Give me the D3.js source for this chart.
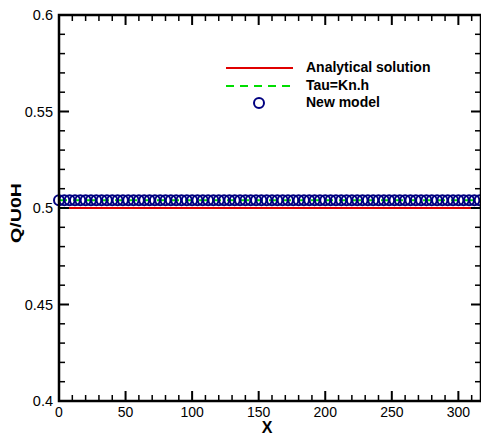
<!DOCTYPE html>
<html><head><meta charset="utf-8">
<script src="https://cdn.jsdelivr.net/npm/d3@7"></script>
<style>body{margin:0;background:#fff}svg{display:block;font-family:Arial,"Liberation Sans",sans-serif}</style>
</head><body>
<script>
const xTicks = [0, 50, 100, 150, 200, 250, 300];
const yTicks = [0.4, 0.45, 0.5, 0.55, 0.6];
const yTickLabels = ["0.4", "0.45", "0.5", "0.55", "0.6"];
const analyticalX = [0, 318];
const analyticalY = [0.5, 0.5];
const tauX = [0, 318];
const tauY = [0.504, 0.504];
const modelX = [0,4,8,12,16,20,24,28,32,36,40,44,48,52,56,60,64,68,72,76,80,84,88,92,96,100,104,108,112,116,120,124,128,132,136,140,144,148,152,156,160,164,168,172,176,180,184,188,192,196,200,204,208,212,216,220,224,228,232,236,240,244,248,252,256,260,264,268,272,276,280,284,288,292,296,300,304,308,312,316];
const modelY = modelX.map(() => 0.504);
const legendLabels = ["Analytical solution", "Tau=Kn.h", "New model"];

const W = 481, H = 435;
const m = {left: 59, right: 481, top: 15, bottom: 401};
const svg = d3.select("body").append("svg").attr("width", W).attr("height", H);
const x = d3.scaleLinear().domain([0, 317]).range([m.left, m.right]);
const y = d3.scaleLinear().domain([0.4, 0.6]).range([m.bottom, m.top]);

svg.append("clipPath").attr("id","c").append("rect")
  .attr("x", m.left).attr("y", m.top).attr("width", m.right-m.left).attr("height", m.bottom-m.top);
const plot = svg.append("g").attr("clip-path","url(#c)");

const line = d3.line().x(d=>x(d[0])).y(d=>y(d[1]));
plot.append("path").datum(analyticalX.map((v,i)=>[v,analyticalY[i]]))
  .attr("d", line).attr("stroke","#e00000").attr("stroke-width",2).attr("fill","none");
plot.append("path").datum(tauX.map((v,i)=>[v,tauY[i]]))
  .attr("d", line).attr("stroke","#00dd00").attr("stroke-width",2).attr("stroke-dasharray","8,6").attr("fill","none");
svg.append("g").selectAll("circle").data(modelX.map((v,i)=>[v,modelY[i]])).join("circle")
  .attr("cx",d=>x(d[0])).attr("cy",d=>y(d[1])).attr("r",5)
  .attr("fill","none").attr("stroke","#000080").attr("stroke-width",2);

const xMinor = d3.range(0, 318, 10).filter(v => v % 50 !== 0);
const yMinor = d3.range(41, 60, 1).filter(v => v % 5 !== 0).map(v => v/100);

// frame
svg.append("rect").attr("x",m.left).attr("y",m.top).attr("width",m.right-m.left).attr("height",m.bottom-m.top)
  .attr("fill","none").attr("stroke","#000").attr("stroke-width",2.5);

// ticks (inward on all four sides), drawn as rects
const tg = svg.append("g").attr("fill","#000");
function xt(vals, len, w) {
  vals.forEach(v => {
    tg.append("rect").attr("x",x(v)-w/2).attr("width",w).attr("y",m.bottom-len).attr("height",len);
    tg.append("rect").attr("x",x(v)-w/2).attr("width",w).attr("y",m.top).attr("height",len);
  });
}
function yt(vals, len, w) {
  vals.forEach(v => {
    tg.append("rect").attr("y",y(v)-w/2).attr("height",w).attr("x",m.left).attr("width",len);
    tg.append("rect").attr("y",y(v)-w/2).attr("height",w).attr("x",m.right-len).attr("width",len);
  });
}
xt(xTicks, 10, 2); xt(xMinor, 6, 1.5);
yt(yTicks, 10, 2); yt(yMinor, 6, 1.5);

// tick labels
svg.append("g").selectAll("text").data(xTicks).join("text")
  .attr("x", d=>x(d)).attr("y", m.bottom+16).attr("text-anchor","middle").attr("font-size",14).text(d=>d);
svg.append("g").selectAll("text").data(yTicks).join("text")
  .attr("x", m.left-6).attr("y", d=>y(d)+5).attr("text-anchor","end").attr("font-size",14.5).text((d,i)=>yTickLabels[i]);

svg.append("text").attr("x", 267).attr("y", 433).attr("text-anchor","middle")
  .attr("font-weight","bold").attr("font-size",16).text("X");
svg.append("text").attr("transform","translate(21,213) rotate(-90)").attr("text-anchor","middle")
  .attr("font-weight","bold").attr("font-size",15).attr("textLength",60).attr("lengthAdjust","spacingAndGlyphs").text("Q/U0H");

const lg = svg.append("g");
lg.append("line").attr("x1",226).attr("x2",293).attr("y1",68).attr("y2",68).attr("stroke","#e00000").attr("stroke-width",2);
lg.append("line").attr("x1",226).attr("x2",293).attr("y1",86).attr("y2",86).attr("stroke","#00dd00").attr("stroke-width",2).attr("stroke-dasharray","8,6");
lg.append("circle").attr("cx",259).attr("cy",103).attr("r",5).attr("fill","none").attr("stroke","#000080").attr("stroke-width",2);
lg.selectAll("text").data(legendLabels).join("text")
  .attr("x",306).attr("y",(d,i)=>72+i*17.5).attr("font-weight","bold").attr("font-size",14).text(d=>d);
</script>
</body></html>
